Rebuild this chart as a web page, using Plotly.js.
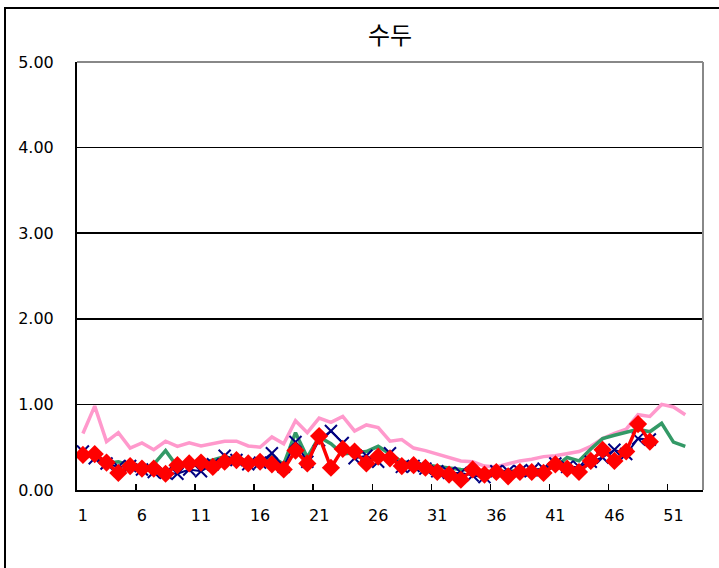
<!DOCTYPE html>
<html>
<head>
<meta charset="utf-8">
<script src="https://cdn.plot.ly/plotly-3.0.1.min.js"></script>
<style>
html,body{margin:0;padding:0;background:#fff;overflow:hidden;}
#chart{width:719px;height:568px;position:absolute;left:0;top:0;}
#frame{position:absolute;left:4px;top:7px;width:900px;height:900px;border:2px solid #000;pointer-events:none;}
</style>
</head>
<body>
<div id="chart"></div>
<div id="frame"></div>
<script>
const weeks = Array.from({length: 53}, (_, i) => i + 1);
const tickLabels = [1, 6, 11, 16, 21, 26, 31, 36, 41, 46, 51];
const tickMarks = [5.5, 10.5, 15.5, 20.5, 25.5, 30.5, 35.5, 40.5, 45.5, 50.5];

const pinkSeries = [0.66,0.98,0.565,0.67,0.49,0.55,0.47,0.57,0.51,0.55,
  0.515,0.54,0.57,0.57,0.515,0.50,0.62,0.54,0.81,0.67,
  0.84,0.79,0.86,0.69,0.76,0.73,0.57,0.59,0.49,0.46,
  0.42,0.38,0.34,0.33,0.28,0.27,0.31,0.34,0.36,0.39,
  0.40,0.42,0.45,0.51,0.60,0.66,0.71,0.88,0.86,1.00,
  0.97,0.88];
const greenSeries = [0.42,0.41,0.31,0.33,0.29,0.25,0.30,0.46,0.27,0.33,
  0.31,0.35,0.39,0.35,0.34,0.33,0.39,0.30,0.67,0.38,
  0.62,0.54,0.42,0.44,0.45,0.51,0.42,0.33,0.31,0.29,
  0.27,0.26,0.24,0.23,0.22,0.21,0.22,0.22,0.23,0.24,
  0.27,0.38,0.34,0.48,0.60,0.64,0.68,0.71,0.68,0.78,
  0.56,0.51];
const blueSeries = [0.45,0.37,0.31,0.27,0.28,0.24,0.21,0.20,0.19,0.24,
  0.22,0.30,0.40,0.35,0.30,0.32,0.43,0.27,0.56,0.33,
  0.58,0.69,0.55,0.37,0.40,0.33,0.43,0.27,0.28,0.25,
  0.22,0.20,0.20,0.17,0.15,0.22,0.22,0.22,0.23,0.25,
  0.31,0.27,0.27,0.33,0.38,0.47,0.42,0.60,0.59];
const redSeries = [0.41,0.42,0.32,0.20,0.28,0.25,0.25,0.19,0.29,0.31,
  0.32,0.27,0.33,0.35,0.31,0.33,0.30,0.24,0.46,0.31,
  0.63,0.26,0.48,0.45,0.31,0.39,0.37,0.28,0.29,0.26,
  0.21,0.18,0.12,0.24,0.18,0.21,0.16,0.21,0.21,0.20,
  0.30,0.25,0.21,0.34,0.47,0.34,0.45,0.77,0.565];

const traces = [
  {x: weeks.slice(0, pinkSeries.length), y: pinkSeries, type: 'scatter', mode: 'lines',
   line: {color: '#FF99CC', width: 3.5}, hoverinfo: 'none'},
  {x: weeks.slice(0, greenSeries.length), y: greenSeries, type: 'scatter', mode: 'lines',
   line: {color: '#339966', width: 3.5}, hoverinfo: 'none'},
  {x: weeks.slice(0, blueSeries.length), y: blueSeries, type: 'scatter', mode: 'lines+markers',
   line: {color: '#000080', width: 2},
   marker: {symbol: 'x-thin-open', size: 12, color: '#000080', line: {color: '#000080', width: 2}},
   hoverinfo: 'none'},
  {x: weeks.slice(0, redSeries.length), y: redSeries, type: 'scatter', mode: 'lines+markers',
   line: {color: '#FF0000', width: 3.5},
   marker: {symbol: 'diamond', size: 14, color: '#FF0000'},
   hoverinfo: 'none'},
  {x: [], y: [], xaxis: 'x2', type: 'scatter', mode: 'lines', hoverinfo: 'none'}
];

const layout = {
  width: 719, height: 568,
  margin: {l: 77, r: 16, t: 62, b: 78},
  paper_bgcolor: '#ffffff', plot_bgcolor: '#ffffff',
  showlegend: false,
  font: {family: 'DejaVu Sans, sans-serif', size: 16, color: '#000'},
  title: {text: '수두', font: {family: 'Noto Sans CJK KR, sans-serif', size: 24, color: '#000'},
          x: 0.5, xref: 'paper', y: 1 - 36/568, yref: 'container', yanchor: 'middle'},
  xaxis: {
    range: [0.5, 53.5], tickmode: 'array', tickvals: tickLabels, ticktext: tickLabels.map(String),
    ticks: '', showgrid: false, zeroline: false,
    showline: true, linecolor: '#000', linewidth: 2,
    ticklabelstandoff: 10,
    tickfont: {family: 'DejaVu Sans, sans-serif', size: 16, color: '#000'}
  },
  xaxis2: {
    overlaying: 'x', anchor: 'y', side: 'bottom', matches: 'x',
    range: [0.5, 53.5], tickmode: 'array', tickvals: tickMarks,
    ticks: 'inside', ticklen: 6, tickwidth: 1.5, tickcolor: '#000',
    showticklabels: false, showgrid: false, zeroline: false, showline: false
  },
  yaxis: {
    range: [0, 5], tickmode: 'linear', tick0: 0, dtick: 1, tickformat: '.2f',
    ticks: '', showgrid: true, gridcolor: '#000', gridwidth: 1.5, zeroline: false,
    showline: true, linecolor: '#000', linewidth: 2,
    ticklabelstandoff: 18,
    tickfont: {family: 'DejaVu Sans, sans-serif', size: 16, color: '#000'}
  },
  shapes: [
    {type: 'line', xref: 'paper', yref: 'paper', x0: 0, x1: 1, y0: 1, y1: 1, line: {color: '#888', width: 2}, layer: 'above'},
    {type: 'line', xref: 'paper', yref: 'paper', x0: 1, x1: 1, y0: 0, y1: 1, line: {color: '#888', width: 2}, layer: 'above'}
  ]
};

Plotly.newPlot('chart', traces, layout, {displayModeBar: false, staticPlot: true});
</script>
</body>
</html>
